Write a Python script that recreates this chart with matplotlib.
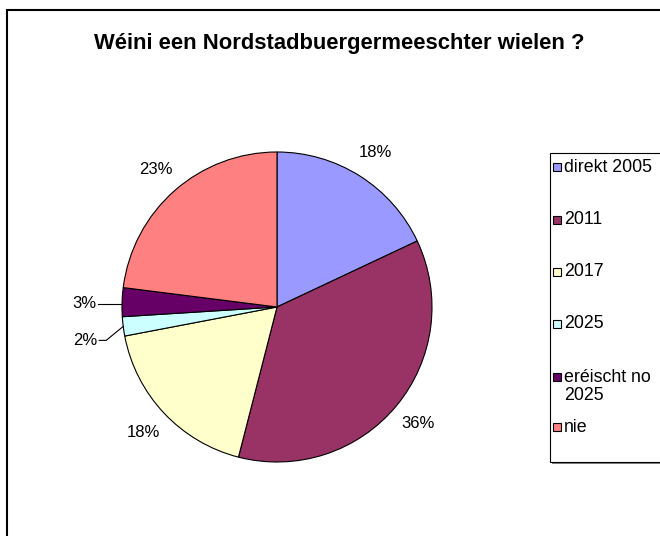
import numpy as np
import matplotlib.pyplot as plt
from matplotlib.patches import Rectangle

plt.rcParams['font.family'] = ['Liberation Sans', 'DejaVu Sans']

# Daten
categories = ['direkt 2005', '2011', '2017', '2025', 'eréischt no\n2025', 'nie']
values = [18, 36, 18, 2, 3, 23]
colors = ['#9999FF', '#993366', '#FFFFCC', '#CCFFFF', '#660066', '#FF8080']

W, H = 660, 536
fig = plt.figure(figsize=(W / 100, H / 100), dpi=100)

# Rahmen vum Diagramm (riets an ënnen ofgeschnidden)
fig.add_artist(Rectangle((7 / W, -0.1), 1.2, 1.1 - 10 / H, transform=fig.transFigure,
                         fill=False, edgecolor='black', linewidth=1.5))

fig.text(339 / W, 1 - 44 / H, 'Wéini een Nordstadbuergermeeschter wielen ?',
         ha='center', va='center', fontsize=15.8, fontweight='bold')

# Pie
cx, cy, r = 277, 307, 155
ax = fig.add_axes([(cx - r) / W, 1 - (cy + r) / H, 2 * r / W, 2 * r / H])
wedges, _ = ax.pie(values, colors=colors, startangle=90, counterclock=False,
                   wedgeprops=dict(edgecolor='black', linewidth=0.8))
ax.set_xlim(-1, 1)
ax.set_ylim(-1, 1)
ax.set_aspect('auto')
ax.axis('off')

total = sum(values)
for w, v in zip(wedges, values):
    mid = np.deg2rad((w.theta1 + w.theta2) / 2)
    ex, ey = np.cos(mid), np.sin(mid)
    pct = f'{round(100 * v / total)}%'
    if v / total >= 0.05:
        ax.text(1.18 * ex, 1.18 * ey, pct, ha='center', va='center', fontsize=12,
                clip_on=False)
    elif v == 3:
        ax.plot([ex - 0.155, ex], [ey - 0.01, ey - 0.01], color='black', lw=0.8,
                clip_on=False)
        ax.text(ex - 0.165, ey - 0.01, pct, ha='right', va='center', fontsize=12,
                clip_on=False)
    else:
        ty = ey - 0.09
        ax.plot([ex - 0.155, ex - 0.11, ex], [ty, ty, ey], color='black', lw=0.8,
                clip_on=False)
        ax.text(ex - 0.165, ty, pct, ha='right', va='center', fontsize=12, clip_on=False)

# Legend (manuell, riets ofgeschnidden)
lx, ly0, ly1 = 550, 153, 462
fig.add_artist(Rectangle(((lx + 2) / W, 1 - (ly1 + 2) / H), 0.5, (ly1 - ly0) / H,
                         transform=fig.transFigure, facecolor='#808080', edgecolor='none'))
fig.add_artist(Rectangle((lx / W, 1 - ly1 / H), 0.5, (ly1 - ly0) / H,
                         transform=fig.transFigure, facecolor='white',
                         edgecolor='black', linewidth=0.8))
entry_y = [167, 220, 272, 324, 377, 427]
for lab, col, y in zip(categories, colors, entry_y):
    fig.add_artist(Rectangle((553 / W, 1 - (y + 4) / H), 8 / W, 8 / H,
                             transform=fig.transFigure, facecolor=col,
                             edgecolor='black', linewidth=0.8))
    if '\n' in lab:
        fig.text(564 / W, 1 - (y - 8) / H, lab, ha='left', va='top', fontsize=12.8,
                 linespacing=1.1)
    else:
        fig.text(564 / W, 1 - y / H, lab, ha='left', va='center', fontsize=12.8)

fig.savefig('out.png', dpi=100)
